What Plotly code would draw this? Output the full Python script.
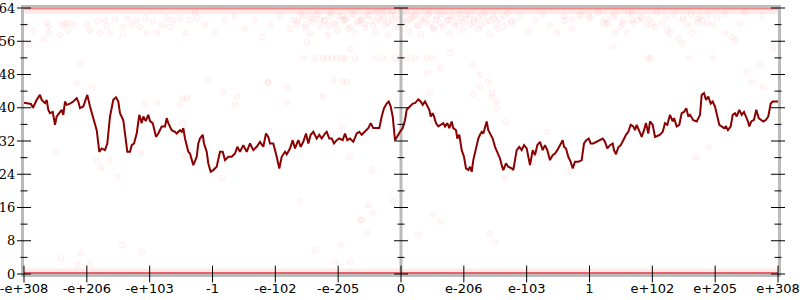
import plotly.graph_objects as go

# ---------------- data ----------------
x_tick_labels = ["-e+308", "-e+206", "-e+103", "-1", "-e-102", "-e-205", "0",
                 "e-206", "e-103", "1", "e+102", "e+205", "e+308"]
y_major = [0, 8, 16, 24, 32, 40, 48, 56, 64]
y_minor = [4, 12, 20, 28, 36, 44, 52, 60]
x_span = 754  # data width of the ordered-float axis

# main line (position along ordered axis, value)
line_x = [0, 7, 9, 12.7, 16, 17.7, 21, 22.7, 24.3, 26, 28.7, 31, 32.7, 35.3, 37.7, 39.3, 41,
          42.7, 46, 49.3, 52.7, 54.3, 56, 59.3, 63.3, 66, 69.3, 72.7, 75.3, 77.7, 81, 83.3, 86,
          89.3, 92, 94.3, 96, 99.3, 101, 103.3, 106, 107.7, 110, 112.7, 115.3, 117.7, 119.3,
          121.7, 124.3, 126, 128.7, 132, 134.3, 137.7, 141, 142.7, 144.3, 147.7, 151, 152.7,
          156, 157.7, 159.3, 161, 164.3, 166, 169.3, 172.7, 174.3, 176, 178.7, 180, 182.7,
          184.3, 186.7, 189.3, 192.7, 196, 198.7, 201, 204.3, 207.7, 211, 213.3, 216, 219.3,
          222.7, 226, 229.3, 232.7, 236, 239.3, 242, 244.3, 246, 249.3, 252.7, 255.3, 257.7,
          261, 262.7, 266, 268.7, 271, 274.3, 276.7, 279.3, 282, 284.3, 286.7, 289.3, 292.7,
          295.3, 297.7, 301, 302.7, 305.3, 307.7, 310, 312.7, 315.3, 318.7, 321, 323.3, 326,
          329.3, 332.7, 335.3, 337.7, 341, 344.3, 346.7, 349.3, 352.7, 355.3, 357.7, 360, 362.7,
          364.7, 366.7, 368.7, 371, 372.7, 375.3,
          376, 378.7, 381, 382.7, 384.3, 386, 388.7, 391, 392.7, 394.3, 396.7, 398.7, 401,
          403.3, 405.3, 406.7, 408.7, 410, 412, 414.3, 416.7, 419.3, 421, 423.3, 425.3, 427.7,
          429.3, 432, 433.3, 435.3, 437.7, 440, 442, 444.3, 446, 447.7, 449.3, 452, 454.3,
          456, 457.7, 459.3, 461, 462.7, 464.3, 466, 468.7, 471, 473.3, 476, 477.7, 479.3,
          482, 484.3, 487.7, 489.3, 492.7, 495.3, 497.7, 500, 502.7, 504.3, 506, 508.7, 511,
          513.3, 516, 518.7, 521, 523.3, 526, 528.7, 531, 533.3, 536, 538.7, 540, 542, 544.3,
          546.7, 548.7, 551, 554.3, 557.7, 560, 562.3, 564.7, 566.7, 569.3, 572.3, 575.3,
          578.7, 581, 583.3, 586, 588.7, 590, 592, 594.3, 596.7, 599.3, 602, 604.3, 606.7,
          609.3, 611, 612.7, 615.3, 617.7, 620, 622, 624.3, 626, 628.7, 631, 633.3, 636, 638.7,
          641, 643.3, 646, 648.7, 650, 652.7, 655.3, 657.7, 660, 662.3, 664.3, 666, 669.3,
          672.7, 676, 677.7, 680, 682, 684.3, 686.7, 688.7, 691, 693.3, 695.3, 697.7, 700,
          702, 704, 706.7, 708.7, 711, 712.7, 715.3, 717.7, 720, 722.3, 724, 725.3, 727.3,
          730, 732.3, 734.7, 736.7, 739.3, 742, 744.3, 746.7, 748.7, 754]
line_y = [41.2, 40.9, 40.0, 41.9, 43.1, 41.9, 41.1, 41.9, 39.5, 38.7, 39.0, 35.9, 37.9, 38.7,
          39.5, 38.3, 41.5, 40.7, 41.0, 41.5, 42.3, 41.5, 39.9, 40.3, 43.1, 40.3, 37.5, 34.6,
          29.4, 30.2, 29.8, 31.4, 37.9, 41.9, 42.5, 41.5, 38.7, 37.0, 33.8, 29.4, 29.4, 31.0,
          31.4, 33.8, 38.3, 36.3, 37.9, 36.8, 38.3, 36.8, 36.3, 33.0, 33.8, 35.5, 35.5, 37.5,
          36.3, 34.6, 34.2, 33.8, 34.6, 34.2, 35.1, 32.6, 29.4, 29.0, 26.2, 28.2, 31.4, 32.6,
          33.5, 31.4, 29.4, 26.6, 24.6, 25.0, 25.8, 29.4, 29.4, 27.4, 28.2, 28.2, 29.0, 30.6,
          29.4, 31.0, 29.4, 31.4, 29.8, 30.6, 31.8, 30.6, 33.8, 33.0, 31.4, 31.4, 28.2, 25.4,
          28.2, 29.4, 28.8, 30.2, 32.2, 30.2, 32.2, 30.6, 31.8, 33.8, 31.4, 33.5, 34.2, 32.6,
          33.5, 32.6, 33.8, 34.2, 32.6, 32.6, 31.4, 32.2, 32.6, 32.2, 33.8, 32.2, 32.6, 31.8,
          33.8, 34.2, 33.5, 34.2, 35.1, 36.3, 35.1, 35.1, 35.1, 37.9, 39.9, 41.0, 41.5, 40.3,
          37.9, 32.2, 33.0, 34.2,
          34.2, 35.1, 37.0, 39.5, 39.9, 40.3, 41.0, 41.1, 41.5, 42.0, 41.5, 40.7, 41.5, 40.3,
          39.5, 37.9, 38.7, 37.9, 36.3, 35.5, 35.9, 36.3, 35.5, 36.3, 35.1, 36.7, 35.1, 34.6,
          32.6, 33.5, 29.8, 28.2, 25.4, 25.0, 25.8, 24.6, 27.4, 30.6, 32.6, 33.5, 34.2, 33.8,
          35.5, 36.7, 34.6, 33.8, 32.6, 30.6, 29.4, 27.8, 26.2, 25.0, 26.6, 25.8, 25.4, 25.0,
          29.8, 30.6, 29.8, 31.0, 30.2, 27.8, 26.2, 29.8, 28.6, 31.0, 31.8, 29.8, 31.0, 29.8,
          27.4, 28.6, 29.0, 29.8, 31.0, 32.2, 30.6, 30.2, 28.2, 27.0, 25.4, 27.0, 27.0, 27.4,
          31.4, 32.2, 32.6, 31.4, 31.4, 31.8, 32.2, 32.6, 31.8, 30.2, 31.0, 31.4, 29.8, 28.8,
          30.5, 31.0, 32.2, 33.5, 34.2, 35.9, 35.5, 34.6, 35.9, 34.2, 33.0, 34.6, 36.3, 33.8,
          36.7, 35.9, 33.0, 33.2, 33.5, 34.2, 36.3, 35.9, 38.3, 36.7, 37.5, 35.5, 35.9, 38.7,
          39.0, 39.9, 37.9, 38.3, 37.0, 36.7, 38.3, 43.1, 43.5, 41.9, 42.7, 41.0, 41.5, 40.3,
          37.9, 35.9, 35.5, 35.1, 35.5, 34.6, 35.5, 38.3, 38.7, 37.9, 39.5, 38.3, 39.0, 37.9,
          36.7, 35.5, 36.7, 37.1, 39.5, 37.5, 37.1, 36.7, 37.1, 37.9, 41.0, 41.5, 41.5]

# faint sample cloud (position along ordered axis, value)
cloud_x = [3, 9, 5, 19, 23, 24, 25, 36, 38, 41, 44, 44, 51, 63, 66, 76, 74, 83, 86, 81, 91,
           99, 99, 104, 108, 113, 116, 121, 123, 129, 133, 138, 143, 146, 149, 156, 162, 166,
           173, 181, 191, 201, 211, 221, 231, 238, 246, 256, 266, 274,
           279, 282, 286, 288, 294, 296, 301, 304, 306, 311, 314, 318, 321, 324, 328, 331,
           334, 338, 341, 344, 348, 351, 354, 358, 361, 364, 368, 371, 374, 379, 382, 385,
           388, 391, 394, 397, 400, 404, 407, 410, 413, 416, 419, 423, 426, 429, 432, 436,
           439, 442, 446, 450, 454, 458, 462, 466, 470, 474,
           481, 488, 496, 504, 511, 518, 526, 533, 541, 548, 556, 566, 579, 581, 584, 591,
           596, 599, 603, 608, 609, 614, 618, 623, 628, 631, 638, 643, 646, 654, 659, 664,
           668, 674, 678, 683, 689, 701, 708, 716, 723, 728, 736, 739,
           56, 53, 68, 93, 159, 77, 117, 161, 32, 73, 86, 93, 121, 133, 159, 156, 163, 184,
           199, 211, 213, 244, 263, 274, 318, 326, 348, 198, 318, 244, 263, 299, 468, 482, 523,
           473, 409, 513, 508, 544, 481, 417, 456, 406, 473, 654, 685, 672, 658, 589, 749, 711,
           626, 624, 665, 689,
           279, 291, 299, 303, 308, 313, 318, 321, 331, 351, 359, 371, 376, 383, 391, 403, 409,
           426, 449, 456, 464, 309, 403, 323, 326, 283, 449, 468, 369, 416, 336, 409, 317,
           343, 311, 326, 344, 349, 276, 338, 394, 291, 466, 471, 66, 37, 53, 57, 98, 118, 171,
           589, 604, 673, 721, 738,
           270, 277, 285, 292, 300, 307, 315, 322, 330, 337, 345, 352, 360, 367, 375, 382,
           390, 397, 405, 412, 420, 427, 435, 442, 450, 457, 465, 472, 480, 487,
           273, 281, 289, 296, 304, 311, 319, 326, 334, 341, 349, 356, 364, 371, 379, 386,
           394, 401, 409, 416, 424, 431, 439, 446, 454, 461, 469, 476, 484,
           540, 548, 557, 565, 574, 582, 591, 599, 608, 616, 625, 633, 642, 650, 659, 667,
           676, 684, 693, 701, 710, 718, 727, 735, 744, 752]
cloud_y = [59.9, 58.7, 55.1, 56.5, 60.6, 59.4, 58.0, 57.5, 59.9, 60.2, 60.4, 58.7, 59.9, 60.2,
           58.7, 58.0, 60.9, 59.7, 58.0, 61.1, 61.4, 59.4, 57.7, 61.4, 59.9, 61.1, 59.4, 61.6,
           58.0, 60.9, 58.0, 59.9, 61.6, 59.4, 61.1, 61.6, 58.0, 61.1, 61.6, 60.0, 58.0, 61.0,
           62.0, 59.0, 61.0, 57.0, 60.0, 62.0, 59.0, 61.0,
           62.0, 60.0, 58.0, 61.5, 62.5, 59.5, 61.0, 57.5, 62.0, 60.0, 58.5, 62.0, 61.0, 59.0,
           62.5, 57.8, 60.5, 61.8, 59.2, 62.3, 60.8, 58.2, 61.5, 62.6, 60.0, 57.4, 61.0, 62.2,
           59.5, 62.0, 60.5, 58.3, 61.7, 62.5, 59.8, 57.6, 61.2, 62.4, 60.2, 58.8, 61.9, 62.6,
           59.5, 61.0, 57.9, 62.1, 60.4, 61.6, 58.6, 62.4, 60.0, 61.3, 59.0, 62.2, 60.6, 57.7,
           61.5, 59.0, 62.0, 60.5, 61.8, 58.5, 61.0, 62.3, 60.0, 58.0, 61.0, 59.0, 62.0, 61.6,
           60.6, 60.2, 60.4, 58.2, 59.4, 60.2, 58.2, 61.1, 60.4, 61.1, 61.6, 59.9, 60.2, 59.4,
           60.4, 58.7, 58.0, 56.8, 61.6, 59.9, 58.0, 60.4, 61.1, 60.2, 59.9, 58.0, 57.0, 60.4,
           48.6, 46.0, 50.3, 45.0, 50.8, 45.9, 45.0, 41.1, 36.4, 25.6, 29.2, 28.4, 29.7, 27.3,
           27.4, 23.4, 41.0, 41.2, 42.3, 40.7, 42.3, 46.7, 43.9, 40.7, 42.7, 46.3, 41.2, 32.2,
           35.4, 28.2, 25.0, 23.1, 46.3, 46.0, 44.9, 42.7, 43.5, 36.7, 34.2, 39.9, 36.3, 29.0,
           26.8, 24.6, 23.0, 49.7, 45.2, 43.6, 41.5, 37.5, 30.5, 28.1, 55.5, 54.7, 54.3, 56.3,
           51.9, 51.9, 51.9, 51.9, 51.9, 51.9, 51.9, 51.9, 51.9, 51.9, 51.9, 51.9, 51.9, 51.9,
           51.9, 51.9, 51.9, 51.9, 51.9, 51.9, 51.9, 53.2, 50.3, 47.9, 46.2, 46.7, 48.4, 46.2,
           54.1, 55.8, 43.3, 42.6, 17.4, 12.6, 13.0, 14.4, 7.0, 9.8, 3.0, 3.0, 16.6, 14.6,
           17.4, 13.0, 9.5, 5.8, 9.6, 7.5, 2.2, 3.8, 2.2, 5.0, 7.0, 5.4,
           62.8, 61.9, 62.6, 61.4, 62.9, 62.1, 61.2, 62.7, 61.8, 62.4, 61.0, 62.8, 62.0, 61.5,
           62.6, 61.1, 62.3, 62.9, 61.7, 62.5, 61.3, 62.8, 62.0, 61.6, 62.7, 61.2, 62.4, 61.9,
           62.6, 61.4,
           60.6, 59.9, 61.0, 60.3, 59.6, 60.8, 60.1, 59.3, 60.7, 61.1, 59.8, 60.4, 61.2, 59.5,
           60.9, 60.2, 59.7, 61.0, 60.5, 59.4, 60.8, 61.3, 59.9, 60.6, 59.2, 60.3, 61.1, 59.7,
           60.5,
           62.6, 61.8, 62.8, 62.2, 61.5, 62.7, 62.0, 61.3, 62.5, 61.9, 62.8, 61.6, 62.3, 61.1,
           62.6, 62.0, 61.4, 62.8, 61.7, 62.4, 61.2, 62.6, 61.9, 62.3, 61.6, 62.5]

# dense bands of samples at the extremes
band_x = [0, 754]
band_top = [63.3, 63.3]
band_top_edge = [63.85, 63.85]
band_bottom = [0.75, 0.75]
band_bottom_edge = [0.1, 0.1]

# ---------------- figure ----------------
x_ticks = [i * x_span / (len(x_tick_labels) - 1) for i in range(len(x_tick_labels))]
x_mid = x_span / 2

fig = go.Figure()

fig.add_trace(go.Scatter(x=band_x, y=band_top, mode="lines",
                         line=dict(color="rgba(255,40,40,0.10)", width=6), hoverinfo="skip"))
fig.add_trace(go.Scatter(x=band_x, y=band_bottom, mode="lines",
                         line=dict(color="rgba(255,40,40,0.10)", width=5), hoverinfo="skip"))

fig.add_trace(go.Scatter(x=cloud_x, y=cloud_y, mode="markers",
                         marker=dict(size=6, color="rgba(255,60,60,0.035)",
                                     line=dict(color="rgba(255,60,60,0.06)", width=1)),
                         hoverinfo="skip"))

# middle (zero) axis
fig.add_trace(go.Scatter(x=[x_mid, x_mid], y=[y_major[0], y_major[-1]], mode="lines",
                         line=dict(color="#bbbbbb", width=3), hoverinfo="skip"))

fig.add_trace(go.Scatter(x=band_x, y=band_top_edge, mode="lines", cliponaxis=False,
                         line=dict(color="rgba(225,40,40,0.5)", width=2), hoverinfo="skip"))
fig.add_trace(go.Scatter(x=band_x, y=band_bottom_edge, mode="lines", cliponaxis=False,
                         line=dict(color="rgba(215,40,50,0.7)", width=3), hoverinfo="skip"))

fig.add_trace(go.Scatter(x=line_x, y=line_y, mode="lines",
                         line=dict(color="#8b0000", width=2), hoverinfo="skip"))

# crossing tick marks on the three vertical axes
for ax_x in (0, x_mid, x_span):
    fig.add_trace(go.Scatter(x=[ax_x] * len(y_major), y=y_major, mode="markers",
                             cliponaxis=False,
                             marker=dict(symbol="line-ew", size=10,
                                         line=dict(color="black", width=1)),
                             hoverinfo="skip"))
    fig.add_trace(go.Scatter(x=[ax_x] * len(y_minor), y=y_minor, mode="markers",
                             cliponaxis=False,
                             marker=dict(symbol="line-ew", size=5,
                                         line=dict(color="black", width=1)),
                             hoverinfo="skip"))
fig.add_trace(go.Scatter(x=x_ticks, y=[0] * len(x_ticks), mode="markers", cliponaxis=False,
                         marker=dict(symbol="line-ns", size=12,
                                     line=dict(color="black", width=1)),
                         hoverinfo="skip"))

fig.update_layout(
    width=800, height=300,
    margin=dict(l=24, r=22, t=8, b=26, pad=0),
    paper_bgcolor="white", plot_bgcolor="white",
    showlegend=False,
)
fig.update_xaxes(range=[0, x_span], tickmode="array", tickvals=x_ticks,
                 ticktext=x_tick_labels, ticks="", showgrid=False, zeroline=False,
                 showline=True, linecolor="#bbbbbb", linewidth=3, mirror=True,
                 automargin=False, ticklabeloverflow="allow", layer="below traces",
                 tickfont=dict(family="DejaVu Sans", size=13, color="black"),
                 ticklabelstandoff=0)
fig.update_yaxes(range=[0, 64], tickmode="array", tickvals=y_major, ticks="",
                 showgrid=False, zeroline=False,
                 showline=True, linecolor="#bbbbbb", linewidth=3, mirror=True,
                 automargin=False, ticklabeloverflow="allow", layer="below traces",
                 tickfont=dict(family="DejaVu Serif", size=13, color="black"),
                 ticklabelstandoff=3)

fig.write_html("out.html")
